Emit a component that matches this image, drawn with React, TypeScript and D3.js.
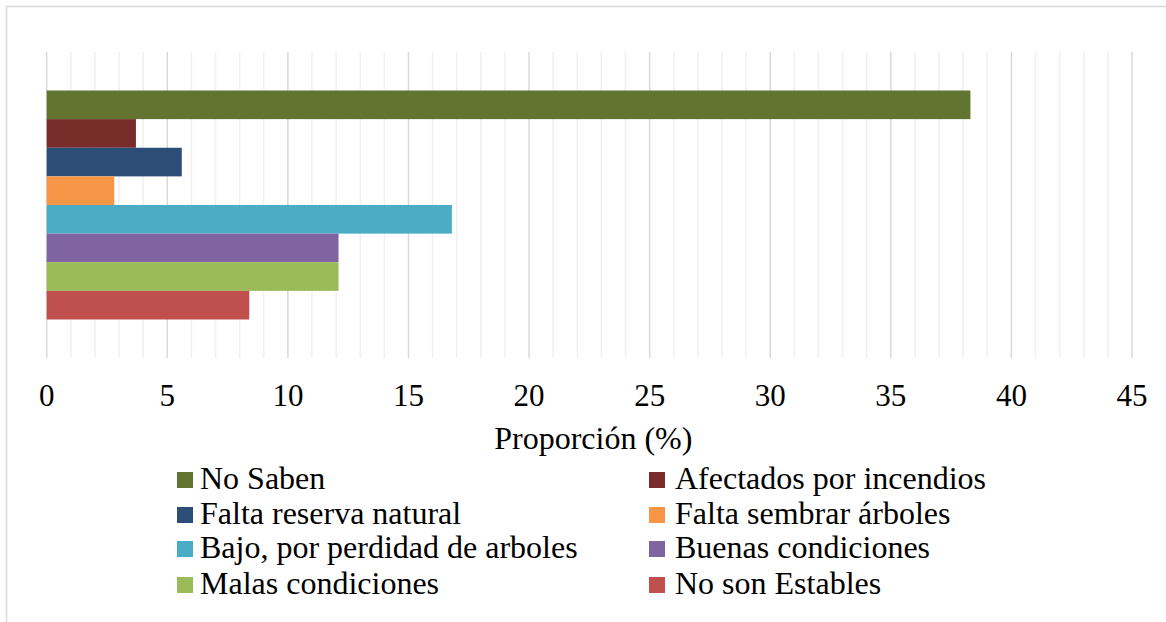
import React from "react";
import * as d3 from "d3";

const seriesNames = [
  "No Saben",
  "Afectados por incendios",
  "Falta reserva natural",
  "Falta sembrar árboles",
  "Bajo, por perdidad de arboles",
  "Buenas condiciones",
  "Malas condiciones",
  "No son Estables",
];
const seriesValues = [38.3, 3.7, 5.6, 2.8, 16.8, 12.1, 12.1, 8.4];
const seriesColors = ["#617430", "#772C2A", "#2C4D75", "#F79646", "#4BACC6", "#8064A2", "#9BBB59", "#C0504D"];
const majorTicks = [0, 5, 10, 15, 20, 25, 30, 35, 40, 45];
const axisTitle = "Proporción (%)";

const W = 1166;
const H = 622;
const FONT = "'Liberation Serif', 'Times New Roman', serif";

export default function App() {
  const plotTop = 52;
  const plotBottom = 358;
  const x = d3.scaleLinear().domain([0, 45]).range([46.7, 1132]);
  const gap = 38.5;
  const y = d3
    .scaleBand<string>()
    .domain(seriesNames)
    .range([plotTop + gap, plotBottom - gap])
    .padding(0);
  const minorTicks = d3.range(0, 46, 1).filter((v) => v % 5 !== 0);

  const legendCols = [
    { markX: 177, textX: 200 },
    { markX: 649, textX: 675 },
  ];
  const legendRows = [489, 524, 558, 594];

  return (
    <svg
      width={W}
      height={H}
      style={{ position: "absolute", left: 0, top: 0, background: "#fff" }}
      fontFamily={FONT}
    >
      <rect x={6.5} y={6.5} width={W + 10} height={H + 10} fill="#fff" stroke="#d9d9d9" strokeWidth={1.5} />
      {minorTicks.map((t) => (
        <line key={"m" + t} x1={x(t)} x2={x(t)} y1={plotTop} y2={plotBottom} stroke="#f0f0f0" strokeWidth={1.5} />
      ))}
      {majorTicks.map((t) => (
        <line key={"M" + t} x1={x(t)} x2={x(t)} y1={plotTop} y2={plotBottom} stroke="#d9d9d9" strokeWidth={1.5} />
      ))}
      {seriesNames.map((s, i) => (
        <rect
          key={s}
          x={x(0)}
          y={y(s)!}
          width={x(seriesValues[i]) - x(0)}
          height={y.bandwidth()}
          fill={seriesColors[i]}
        />
      ))}
      {majorTicks.map((t) => (
        <text key={"t" + t} x={x(t)} y={406} textAnchor="middle" fontSize={31} fill="#000">
          {t}
        </text>
      ))}
      <text x={(x(0) + x(45)) / 2 + 4} y={449} textAnchor="middle" fontSize={32} fill="#000">
        {axisTitle}
      </text>
      {seriesNames.map((s, i) => {
        const col = legendCols[i % 2];
        const rowY = legendRows[Math.floor(i / 2)];
        return (
          <g key={"l" + s}>
            <rect x={col.markX} y={rowY - 17} width={16} height={16} fill={seriesColors[i]} />
            <text x={col.textX} y={rowY} fontSize={32} fill="#000">
              {s}
            </text>
          </g>
        );
      })}
    </svg>
  );
}
